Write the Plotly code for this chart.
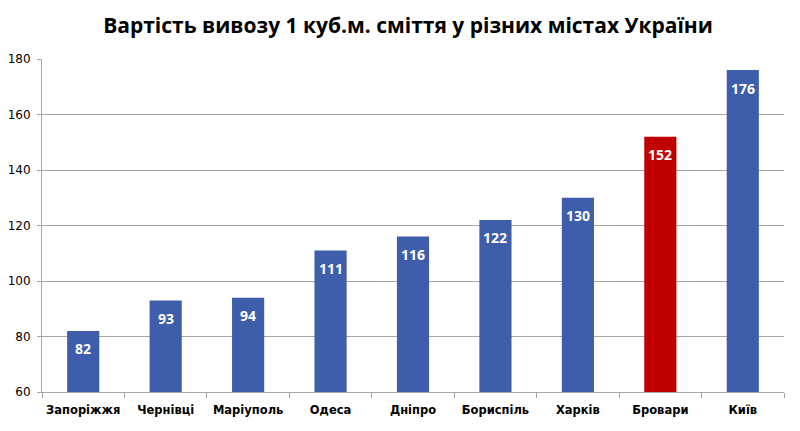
import plotly.graph_objects as go

# Data
cities = ["Запоріжжя", "Чернівці", "Маріуполь", "Одеса", "Дніпро",
          "Бориспіль", "Харків", "Бровари", "Київ"]
costs = [82, 93, 94, 111, 116, 122, 130, 152, 176]
highlight = "Бровари"

bar_colors = ["#C00000" if c == highlight else "#3E5DAB" for c in cities]

fig = go.Figure(go.Bar(
    x=cities, y=costs,
    marker=dict(color=bar_colors, line=dict(width=0)),
    width=0.39,
    textposition="none",
    hoverinfo="x+y",
))

# value labels, white bold, a bit below the bar top
for c, v in zip(cities, costs):
    fig.add_annotation(x=c, y=v, text=f"<b>{v}</b>", showarrow=False,
                       yanchor="middle", yshift=-18,
                       font=dict(color="white", size=14, family="Open Sans"))

fig.update_layout(
    width=800, height=431,
    margin=dict(l=34, r=24, t=51, b=47),
    plot_bgcolor="white", paper_bgcolor="white",
    title=dict(text="<b>Вартість вивозу 1 куб.м. сміття у різних містах України</b>",
               x=0.5, xanchor="center", y=0.958, yanchor="middle",
               font=dict(family="Open Sans", size=21, color="black")),
    showlegend=False,
    bargap=0.61,
)
fig.update_yaxes(range=[60, 180], dtick=20, showgrid=True, gridcolor="#A6A6A6",
                 gridwidth=1, showline=True, linecolor="#A6A6A6",
                 ticks="outside", ticklen=4, tickcolor="#A6A6A6",
                 ticklabelstandoff=4,
                 tickfont=dict(family="DejaVu Sans", size=12, color="black"),
                 zeroline=False, automargin=False)
fig.update_xaxes(showline=True, linecolor="#A6A6A6", ticks="outside",
                 tickson="boundaries", ticklen=5, tickcolor="#A6A6A6",
                 tickangle=0, automargin=False, ticklabelstandoff=7,
                 tickfont=dict(family="DejaVu Sans", size=11.5, color="black"))
fig.update_xaxes(tickvals=cities, ticktext=[f"<b>{c}</b>" for c in cities])

fig.write_html("out.html")
